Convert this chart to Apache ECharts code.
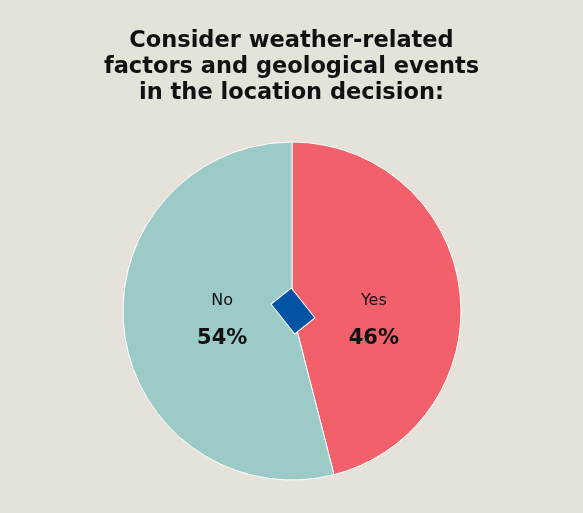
<!DOCTYPE html>
<html><head><meta charset="utf-8">
<script src="https://cdn.jsdelivr.net/npm/echarts@6/dist/echarts.min.js"></script>
<style>html,body{margin:0;padding:0;background:#e5e2da;}#c{width:583px;height:513px;}</style>
</head><body><div id="c"></div>
<script>
var titleLines = ['Consider weather-related', 'factors and geological events', 'in the location decision:'];
var categories = ['Yes', 'No'];
var values = [46, 54];
var colors = ['#f2606b', '#9bcac7'];
var labelOffsets = [[-5, 16], [17, -6]];

var chart = echarts.init(document.getElementById('c'));
chart.setOption({
  backgroundColor: '#e5e2da',
  title: {
    text: titleLines.join('\n'),
    left: 'center',
    top: 23,
    textStyle: { fontFamily: 'DejaVu Sans', fontWeight: 'bold', fontSize: 22.5, lineHeight: 26, color: '#111' }
  },
  graphic: [{
    type: 'rect',
    x: 293, y: 311,
    rotation: -0.9,
    shape: { x: -19, y: -13, width: 38, height: 26 },
    style: { fill: '#0054a3', stroke: '#ffffff', lineWidth: 1 },
    z: 100
  }],
  series: [{
    type: 'pie',
    center: [292, 311],
    radius: 169,
    startAngle: 90,
    clockwise: true,
    silent: true,
    itemStyle: { borderColor: '#ffffff', borderWidth: 1 },
    label: {
      position: 'inside',
      formatter: function (p) { return '{n|' + p.name + '}\n{v|' + p.value + '%}'; },
      rich: {
        n: { fontFamily: 'DejaVu Sans', fontSize: 16, color: '#111', lineHeight: 46 },
        v: { fontFamily: 'DejaVu Sans', fontWeight: 'bold', fontSize: 21, color: '#111', lineHeight: 30 }
      }
    },
    labelLine: { show: false },
    data: categories.map(function (c, i) {
      return { name: c, value: values[i], itemStyle: { color: colors[i] }, label: { offset: labelOffsets[i] } };
    })
  }]
});
</script></body></html>
